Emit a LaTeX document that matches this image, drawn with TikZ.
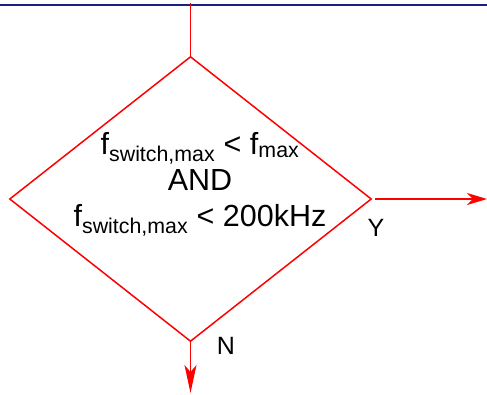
\documentclass[tikz,border=0pt]{standalone}
\usepackage{fontspec}
\setmainfont{Liberation Sans}
\usetikzlibrary{shapes.geometric,arrows.meta}

\definecolor{flowred}{RGB}{255,0,0}
\definecolor{rulenavy}{RGB}{30,30,135}

\tikzset{
    decision/.style={draw=flowred, line width=1.5pt, shape=diamond, inner sep=0pt,
        minimum width=362pt, minimum height=285pt},
    flow/.style={draw=flowred, line width=1.5pt},
    flowarrow/.style={flow, -{Stealth[length=20pt, width=12pt, inset=6pt]}},
    tag/.style={font=\fontsize{25}{30}\selectfont, inner sep=0pt}
}

\begin{document}
\begin{tikzpicture}[x=1pt, y=-1pt]
        \useasboundingbox (0,0) rectangle (487,394);
        % Nodes
        \node[decision] (dec) at (190.5,199) {};
        \node[align=center, inner sep=0pt, font=\fontsize{30.5}{36}\selectfont] (cond) at (200,184)
            {f\textsubscript{switch,max} < f\textsubscript{max}\\AND\\f\textsubscript{switch,max} < 200kHz};
        \coordinate (topL) at (0,5);
        \coordinate (topR) at (487,5);
        \coordinate (feed) at (190.5,3);
        \coordinate (yout) at (487,199);
        \coordinate (nout) at (190.5,393);

        % Top rule and incoming line
        \draw[draw=rulenavy, line width=2.6pt] (topL) -- (topR);
        \draw[flow] (feed) -- (dec.north);

        % Outgoing branches
        \draw[flowarrow, shorten <=3pt] (dec.east) -- (yout);
        \draw[flowarrow, -{Stealth[length=28pt, width=12pt, inset=7pt]}] (dec.south) -- (nout);
        \node[tag] (yes) at (376,228) {Y};
        \node[tag] (no) at (226,346) {N};
    \end{tikzpicture}
\end{document}
